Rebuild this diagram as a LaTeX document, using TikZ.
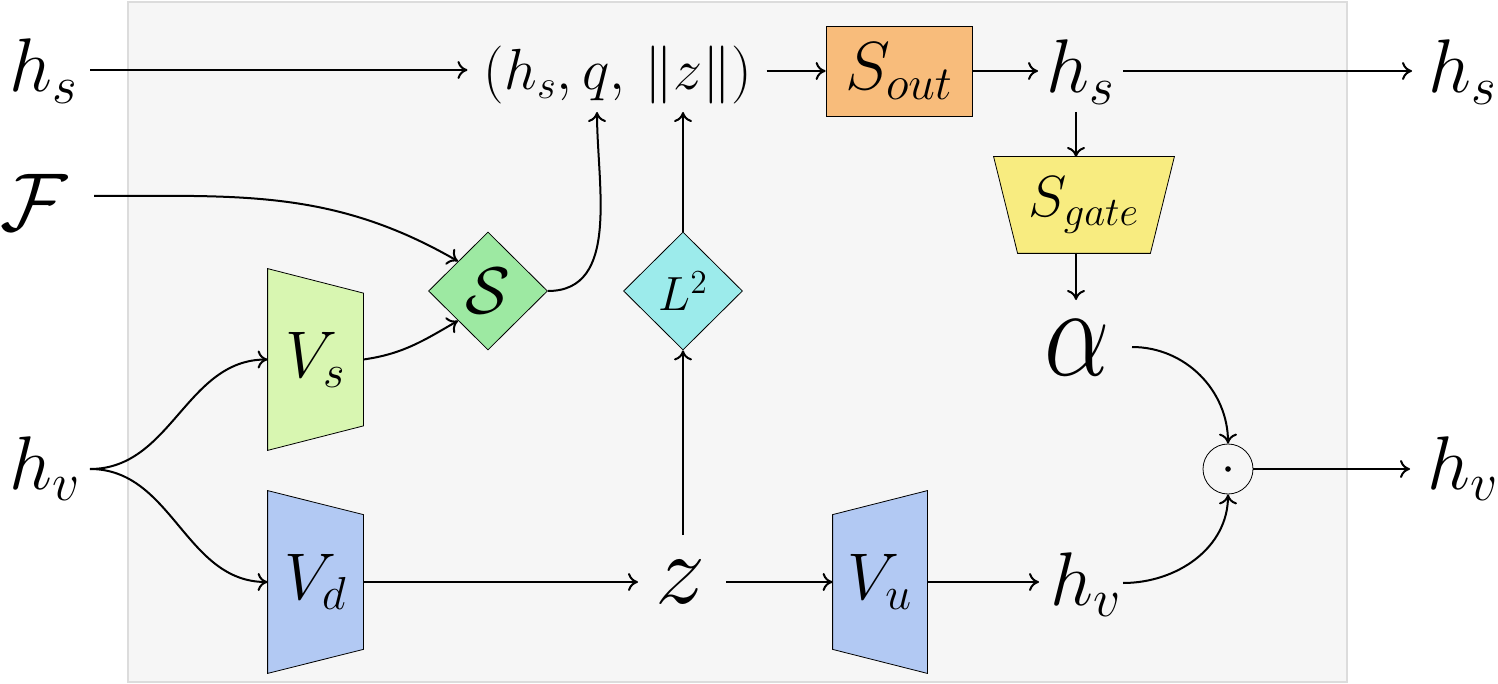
\RequirePackage{fix-cm}
\documentclass[tikz,border=0pt]{standalone}
\usepackage{amsmath}
\usetikzlibrary{arrows.meta,shapes.geometric}
\newcommand\fsz[1]{\fontsize{#1}{#1}\selectfont}
\definecolor{bgc}{HTML}{F6F6F6}
\definecolor{bgline}{HTML}{DCDCDC}
\definecolor{outc}{HTML}{F8BC7B}
\definecolor{gatec}{HTML}{F8EC80}
\definecolor{sc}{HTML}{9DE9A2}
\definecolor{lc}{HTML}{9CEBEB}
\definecolor{vsc}{HTML}{D8F6B1}
\definecolor{vdc}{HTML}{B2C9F3}
\pgfdeclarelayer{back}
\pgfdeclarelayer{mid}
\pgfsetlayers{back,mid,main}
\tikzset{
  big/.style={inner sep=0pt, font=\fsz{38}},
  tup/.style={inner sep=0pt, font=\fsz{29}},
  holder/.style={inner sep=0pt, rectangle},
  dia/.style={diamond, draw, inner sep=0pt, minimum width=59.5pt, minimum height=59pt},
  conn/.style={->, line width=1pt},
}
\begin{document}
\begin{tikzpicture}[x=0.5pt,y=-0.5pt, line width=1pt, >={To[length=5pt,width=9pt]}]
\useasboundingbox (0,0) rectangle (1498,684);
\begin{pgfonlayer}{back}
\draw[bgline, fill=bgc, line width=1pt] (128,2) rectangle (1347,682);
\end{pgfonlayer}

% labels
\node[big, anchor=base west] (hsin) at (9,92) {$h_s$};
\node[big, anchor=base west, font=\fsz{41}] (Fin) at (0,231) {$\mathcal{F}$};
\node[big, anchor=base west] (hvin) at (9,489) {$h_v$};
\node[tup, anchor=base] (tup) at (618,90) {$(h_s,q,\,\|z\|)$};
\node[draw, fill=outc, minimum width=73pt, minimum height=45pt, inner sep=0pt, font=\fsz{34}] (Sout) at (899,71) {$S_{out}$};
\node[big, anchor=base west] (hsmid) at (1046,93) {$h_s$};
\node[big, anchor=base west] (hsout) at (1428,93) {$h_s$};

% S_gate trapezoid
\node[holder, minimum width=90pt, minimum height=48pt, font=\fsz{29}] (Sgate) at (1084,205) {$S_{gate}$};
\begin{pgfonlayer}{mid}
\draw[fill=gatec] (Sgate.north west) -- (Sgate.north east) -- ([xshift=-12pt]Sgate.south east) -- ([xshift=12pt]Sgate.south west) -- cycle;
\end{pgfonlayer}

\node[inner sep=0pt, anchor=base] (alpha) at (1077,375) {\scalebox{1}[1.24]{\fsz{52}$\alpha$}};
\node[circle, draw, minimum size=25pt, inner sep=0pt] (odot) at (1228,469) {};
\fill (odot.center) circle (1.4pt);
\node[big, anchor=base west] (hvmid) at (1050,605) {$h_v$};
\node[big, anchor=base west] (hvout) at (1427,489) {$h_v$};

% diamonds
\node[dia, fill=sc, font=\fsz{33}] (S) at (488,291) {$\mathcal{S}$};
\node[dia, fill=lc, font=\fsz{24}] (L) at (683,291) {$L^2$};

% V blocks
\node[holder, minimum width=47.5pt, minimum height=90.5pt, font=\fsz{33}] (Vs) at (315.5,359.5) {$V_s$};
\node[holder, minimum width=47.5pt, minimum height=91pt, font=\fsz{33}] (Vd) at (315.5,582) {$V_d$};
\node[holder, minimum width=47pt, minimum height=91pt, font=\fsz{33}] (Vu) at (880,582) {$V_u$};
\begin{pgfonlayer}{mid}
\draw[fill=vsc] (Vs.north west) -- ([yshift=-12.25pt]Vs.north east) -- ([yshift=12.25pt]Vs.south east) -- (Vs.south west) -- cycle;
\draw[fill=vdc] (Vd.north west) -- ([yshift=-12pt]Vd.north east) -- ([yshift=12pt]Vd.south east) -- (Vd.south west) -- cycle;
\draw[fill=vdc] ([yshift=-12pt]Vu.north west) -- (Vu.north east) -- (Vu.south east) -- ([yshift=12pt]Vu.south west) -- cycle;
\end{pgfonlayer}

\node[inner sep=0pt, anchor=base, font=\fsz{50}] (z) at (680,603) {$z$};

% tuple inlets
\coordinate (qin) at (597,112);
\coordinate (zin) at (683,112);

% connectors
\draw[conn] (90,70) coordinate (a1) -- ([xshift=-8pt]a1 -| tup.west);
\draw[conn] ([xshift=7pt]tup.east |- Sout.west) -- (Sout.west);
\draw[conn] (Sout.east) -- ([xshift=-4pt]hsmid.west |- Sout.west);
\draw[conn] ([xshift=4pt]hsmid.east |- Sout.east) -- ([xshift=-8pt]hsout.west |- Sout.east);
\draw[conn] (1076,112) -- (1076,157);
\draw[conn] (1076,253) -- (1076,300);
\draw[conn] (1132,347) to[out=0,in=90] (odot.north);
\draw[conn] (1123,583) to[out=0,in=-90] (odot.south);
\draw[conn] (odot.east) -- (1410,469);
\draw[conn] (94,196) to[out=0,in=150] (S.north west);
\draw[conn] (Vs.east) to[out=8,in=-150] (S.south west);
\draw[conn] (S.east) to[out=0,in=-90] (qin);
\draw[conn] (90,469) to[out=0,in=180] (Vs.west);
\draw[conn] (90,469) to[out=0,in=180] (Vd.west);
\draw[conn] (Vd.east) -- (638,582);
\draw[conn] (726,582) -- (Vu.west);
\draw[conn] (Vu.east) -- (1039,582);
\draw[conn] (683,535) -- (L.south);
\draw[conn] (L.north) -- (zin);
\end{tikzpicture}
\end{document}
